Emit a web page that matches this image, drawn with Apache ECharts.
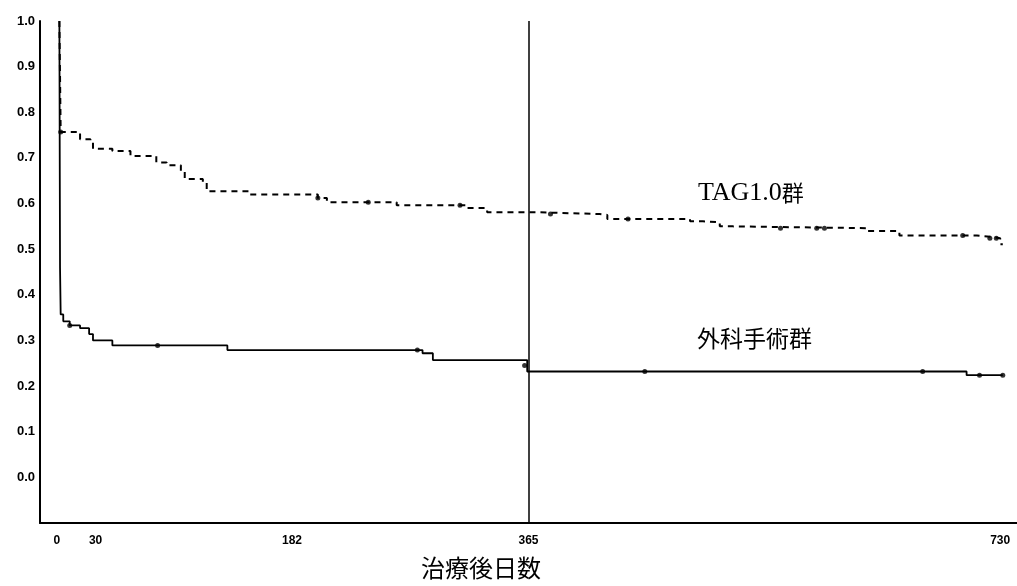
<!DOCTYPE html>
<html>
<head>
<meta charset="utf-8">
<script src="https://cdn.jsdelivr.net/npm/echarts@6/dist/echarts.min.js"></script>
<style>
html,body{margin:0;padding:0;background:#fff;}
#chart{width:1017px;height:586px;}
</style>
</head>
<body>
<div id="chart"></div>
<script>
// ---- data ----
const xTickValues = [0, 30, 182, 365, 730];
const yTickValues = [0, 0.1, 0.2, 0.3, 0.4, 0.5, 0.6, 0.7, 0.8, 0.9, 1.0];
const xAxisName = '治療後日数';
const tagName = 'TAG1.0群';
const surgeryName = '外科手術群';
const referenceDay = 365;

// Kaplan-Meier steps [day, survival]
const tagSteps = [
  [2, 1.0], [3, 0.757], [18, 0.741], [26, 0.735], [28, 0.72], [43, 0.715],
  [57, 0.704], [77, 0.69], [85, 0.684], [96, 0.671], [99, 0.654], [113, 0.647],
  [116, 0.627], [149, 0.62], [202, 0.612], [209, 0.603], [263, 0.596],
  [317, 0.59], [333, 0.581], [372, 0.577], [420, 0.575], [426, 0.566],
  [490, 0.561], [500, 0.559], [513, 0.55], [523, 0.546], [627, 0.54],
  [652, 0.53], [712, 0.528], [720, 0.524], [730, 0.511], [732, 0.511]
];
const tagCensored = [
  [3, 0.757], [202, 0.612], [241, 0.603], [312, 0.596], [382, 0.577],
  [442, 0.566], [560, 0.546], [588, 0.546], [594, 0.546], [701, 0.53],
  [722, 0.524], [727, 0.524]
];
const surgerySteps = [
  [2, 1.0], [2.5, 0.46], [3, 0.357], [5, 0.342], [10, 0.333], [18, 0.327],
  [25, 0.314], [28, 0.30], [43, 0.289], [132, 0.279], [283, 0.272],
  [291, 0.257], [364, 0.232], [704, 0.224], [732, 0.224]
];
const surgeryCensored = [
  [10, 0.333], [78, 0.289], [279, 0.279], [362, 0.245], [455, 0.232],
  [670, 0.232], [714, 0.224], [732, 0.224]
];

const chart = echarts.init(document.getElementById('chart'), null, {renderer: 'canvas'});
const labelFont = {fontFamily: 'Liberation Sans, Arial, sans-serif', fontWeight: 'bold', color: '#000'};

chart.setOption({
  backgroundColor: '#fff',
  animation: false,
  grid: {left: 40, right: 0, top: 21, bottom: 63},
  xAxis: {
    type: 'value', min: -13, max: 743,
    axisLine: {show: true, onZero: false, lineStyle: {color: '#000', width: 2}},
    axisTick: {show: false},
    splitLine: {show: false},
    axisLabel: Object.assign({customValues: xTickValues, margin: 12, fontSize: 12}, labelFont)
  },
  yAxis: {
    type: 'value', min: -0.1, max: 1.0,
    axisLine: {show: true, onZero: false, lineStyle: {color: '#000', width: 2}},
    axisTick: {show: false},
    splitLine: {show: false},
    axisLabel: Object.assign({customValues: yTickValues, margin: 5, fontSize: 13,
      formatter: v => v.toFixed(1)}, labelFont)
  },
  graphic: [
    {type: 'text', left: 698, top: 180, style: {
      rich: {
        a: {fontFamily: 'Liberation Serif, serif', fontSize: 26, fill: '#000'},
        b: {fontFamily: 'Noto Sans CJK JP', fontSize: 22, fill: '#000'}
      },
      text: '{a|TAG1.0}{b|群}'
    }},
    {type: 'text', left: 697, top: 327, style: {
      text: surgeryName, font: '23px "Noto Sans CJK JP"', fill: '#000'
    }},
    {type: 'text', left: 421, top: 556, style: {
      text: xAxisName, font: '24px "Noto Sans CJK JP"', fill: '#000'
    }}
  ],
  series: [
    {
      name: tagName, type: 'line', step: 'end', data: tagSteps,
      showSymbol: false, symbol: 'none',
      lineStyle: {color: '#000', width: 2, type: [6, 5]},
      markLine: {
        silent: true, symbol: 'none', label: {show: false},
        lineStyle: {color: '#000', width: 1.5, type: 'solid'},
        data: [{xAxis: referenceDay}]
      }
    },
    {
      name: surgeryName, type: 'line', step: 'end', data: surgerySteps,
      showSymbol: false, symbol: 'none',
      lineStyle: {color: '#000', width: 1.8, type: 'solid'}
    },
    {
      type: 'scatter', data: tagCensored, symbolSize: 5,
      itemStyle: {color: '#000'}
    },
    {
      type: 'scatter', data: surgeryCensored, symbolSize: 5,
      itemStyle: {color: '#000'}
    }
  ]
});
</script>
</body>
</html>
